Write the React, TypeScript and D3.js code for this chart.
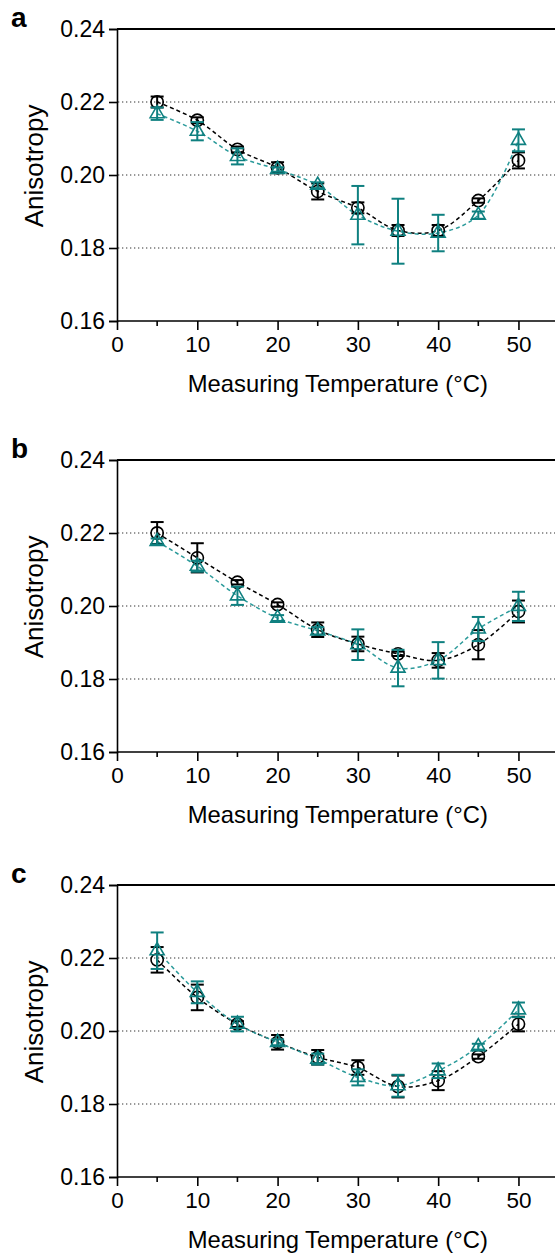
import React, { useEffect, useRef } from "react";
import * as d3 from "d3";

const temps = [5, 10, 15, 20, 25, 30, 35, 40, 45, 50];

const aBlack = [0.220, 0.215, 0.207, 0.202, 0.1955, 0.191, 0.1848, 0.1848, 0.193, 0.204];
const aBlackErr = [0.0015, 0.0008, 0.0008, 0.0015, 0.0022, 0.0015, 0.0015, 0.0015, 0.0006, 0.0022];
const aTeal = [0.2168, 0.212, 0.2051, 0.2015, 0.1972, 0.189, 0.1846, 0.1841, 0.189, 0.2095];
const aTealErr = [0.0017, 0.0025, 0.0022, 0.0006, 0.0008, 0.008, 0.0089, 0.005, 0.001, 0.003];

const bBlack = [0.220, 0.2132, 0.2065, 0.2004, 0.1935, 0.1896, 0.1869, 0.1851, 0.1894, 0.1985];
const bBlackErr = [0.003, 0.004, 0.0006, 0.0006, 0.002, 0.002, 0.0006, 0.002, 0.004, 0.003];
const bTeal = [0.2177, 0.2109, 0.2028, 0.1967, 0.1932, 0.1894, 0.183, 0.1851, 0.1937, 0.1999];
const bTealErr = [0.0008, 0.0015, 0.0025, 0.0008, 0.001, 0.0042, 0.005, 0.005, 0.0033, 0.004];

const cBlack = [0.2195, 0.2092, 0.2019, 0.1969, 0.1928, 0.190, 0.1848, 0.1864, 0.193, 0.2019];
const cBlackErr = [0.0035, 0.0035, 0.0008, 0.002, 0.002, 0.002, 0.003, 0.0026, 0.0006, 0.002];
const cTeal = [0.222, 0.2106, 0.2019, 0.1969, 0.1923, 0.1873, 0.185, 0.1891, 0.1957, 0.2058];
const cTealErr = [0.005, 0.003, 0.002, 0.0008, 0.0015, 0.0022, 0.003, 0.002, 0.0008, 0.002];

const panels = [
  { label: "a", top: 29, black: aBlack, blackErr: aBlackErr, teal: aTeal, tealErr: aTealErr },
  { label: "b", top: 460, black: bBlack, blackErr: bBlackErr, teal: bTeal, tealErr: bTealErr },
  { label: "c", top: 885, black: cBlack, blackErr: cBlackErr, teal: cTeal, tealErr: cTealErr },
];

const yTicks = [0.16, 0.18, 0.20, 0.22, 0.24];
const gridTicks = [0.18, 0.20, 0.22];
const xTicks = [0, 10, 20, 30, 40, 50];
const xMinor = [5, 15, 25, 35, 45];

const TEAL = "#0f8080";
const TEAL_LINE = "#2a9a9a";
const FONT = "Liberation Sans, Arial, sans-serif";

export default function App() {
  const ref = useRef<SVGSVGElement>(null);

  useEffect(() => {
    document.body.style.margin = "0";
    const svg = d3.select(ref.current);
    svg.selectAll("*").remove();

    const x = d3.scaleLinear().domain([0, 55]).range([117, 558.6]);
    const plotH = 292;

    panels.forEach((p) => {
      const y = d3.scaleLinear().domain([0.16, 0.24]).range([p.top + plotH, p.top]);
      const g = svg.append("g");

      // grid
      g.selectAll(".grid").data(gridTicks).join("line")
        .attr("x1", 118).attr("x2", 555)
        .attr("y1", (d) => y(d)).attr("y2", (d) => y(d))
        .attr("stroke", "#333").attr("stroke-width", 1.2).attr("stroke-dasharray", "1.3 2.7");

      // top border
      g.append("line").attr("x1", 117).attr("x2", 555)
        .attr("y1", y(0.24)).attr("y2", y(0.24))
        .attr("stroke", "#000").attr("stroke-width", 2);

      // y axis
      const yAxis = g.append("g").attr("transform", "translate(117,0)")
        .call(d3.axisLeft(y).tickValues(yTicks).tickSize(8).tickPadding(4).tickFormat(d3.format(".2f")));
      yAxis.select(".domain").attr("stroke-width", 1.6);
      yAxis.selectAll(".tick line").attr("stroke-width", 1.6);
      yAxis.selectAll("text").attr("font-size", 23).attr("font-family", FONT).attr("fill", "#000");

      // x axis
      const xAxis = g.append("g").attr("transform", `translate(0,${y(0.16)})`)
        .call(d3.axisBottom(x).tickValues(xTicks).tickSize(9).tickPadding(6).tickSizeOuter(0));
      xAxis.select(".domain").attr("stroke-width", 1.6).attr("d", `M117,0H555`);
      xAxis.selectAll(".tick line").attr("stroke-width", 1.6);
      xAxis.selectAll("text").attr("font-size", 22.5).attr("font-family", FONT).attr("fill", "#000");
      g.selectAll(".minor").data(xMinor).join("line")
        .attr("x1", (d) => x(d)).attr("x2", (d) => x(d))
        .attr("y1", y(0.16)).attr("y2", y(0.16) + 5)
        .attr("stroke", "#000").attr("stroke-width", 1.6);

      // titles
      g.append("text").attr("x", x(27.5)).attr("y", y(0.16) + 71)
        .attr("text-anchor", "middle").attr("font-size", 23.8).attr("font-family", FONT)
        .text("Measuring Temperature (°C)");
      g.append("text")
        .attr("transform", `translate(43,${y(0.2025)}) rotate(-90)`)
        .attr("text-anchor", "middle").attr("font-size", 26).attr("font-family", FONT)
        .text("Anisotropy");
      g.append("text").attr("x", 11).attr("y", p.top - 2)
        .attr("font-size", 28).attr("font-weight", "bold").attr("font-family", FONT)
        .text(p.label);

      const series = [
        { vals: p.black, errs: p.blackErr, color: "#000", line: "#000", shape: "circle" },
        { vals: p.teal, errs: p.tealErr, color: TEAL, line: TEAL_LINE, shape: "triangle" },
      ];

      const lineGen = d3.line<number>()
        .x((d, i) => x(temps[i]))
        .y((d) => y(d))
        .curve(d3.curveCatmullRom);

      series.forEach((s) => {
        g.append("path").attr("d", lineGen(s.vals))
          .attr("fill", "none").attr("stroke", s.line).attr("stroke-width", 1.5)
          .attr("stroke-dasharray", "4 3");
      });

      series.forEach((s) => {
        const eg = g.append("g");
        eg.selectAll(".bar").data(s.vals).join("line")
          .attr("x1", (d, i) => x(temps[i])).attr("x2", (d, i) => x(temps[i]))
          .attr("y1", (d, i) => y(d - s.errs[i])).attr("y2", (d, i) => y(d + s.errs[i]))
          .attr("stroke", s.color).attr("stroke-width", 2);
        [-1, 1].forEach((sign) => {
          eg.selectAll(".cap" + sign).data(s.vals).join("line")
            .attr("x1", (d, i) => x(temps[i]) - 6.5).attr("x2", (d, i) => x(temps[i]) + 6.5)
            .attr("y1", (d, i) => y(d + sign * s.errs[i])).attr("y2", (d, i) => y(d + sign * s.errs[i]))
            .attr("stroke", s.color).attr("stroke-width", 2);
        });
        const sym = s.shape === "circle"
          ? d3.symbol().type(d3.symbolCircle).size(118)
          : d3.symbol().type(d3.symbolTriangle).size(85);
        eg.selectAll(".mark").data(s.vals).join("path")
          .attr("d", sym())
          .attr("transform", (d, i) => `translate(${x(temps[i])},${y(d)})`)
          .attr("fill", "none").attr("stroke", s.color).attr("stroke-width", 1.6);
      });
    });
  }, []);

  return (
    <svg ref={ref} width={555} height={1255} style={{ position: "absolute", left: 0, top: 0, background: "#fff" }} />
  );
}
